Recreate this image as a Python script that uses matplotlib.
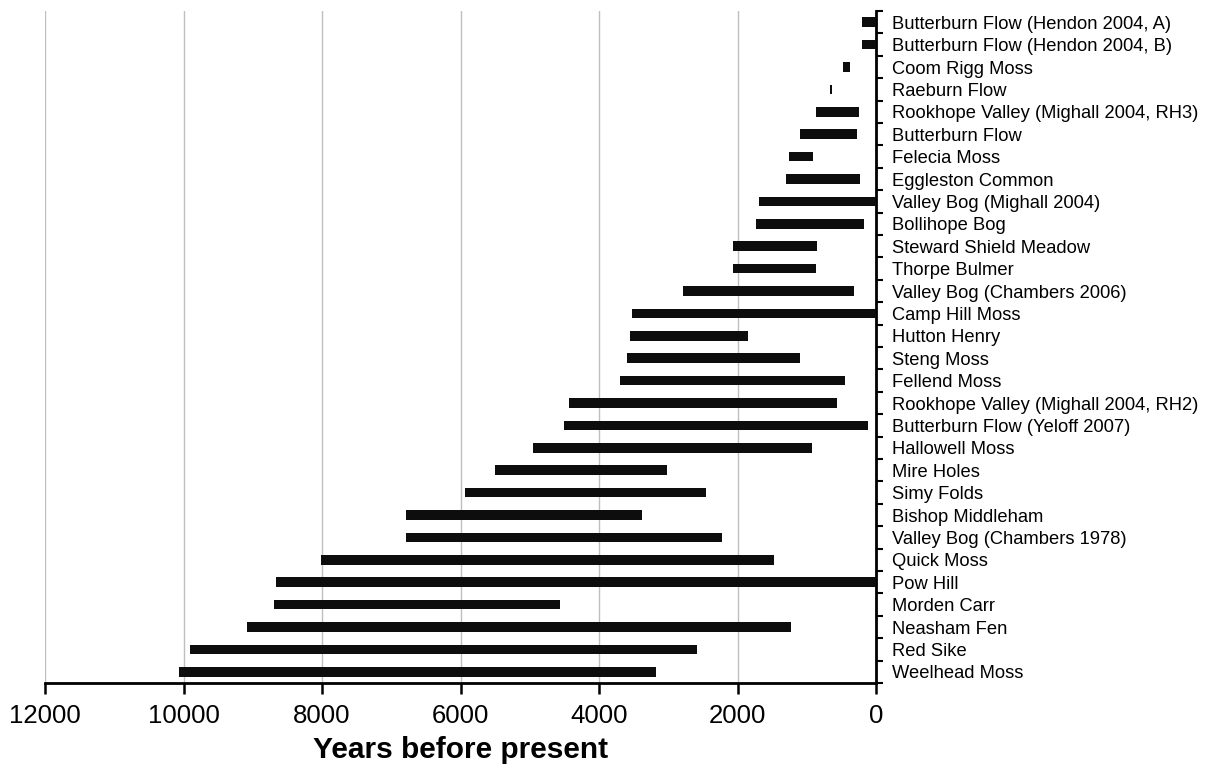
import numpy as np
import matplotlib.pyplot as plt

sites = [
    "Butterburn Flow (Hendon 2004, A)",
    "Butterburn Flow (Hendon 2004, B)",
    "Coom Rigg Moss",
    "Raeburn Flow",
    "Rookhope Valley (Mighall 2004, RH3)",
    "Butterburn Flow",
    "Felecia Moss",
    "Eggleston Common",
    "Valley Bog (Mighall 2004)",
    "Bollihope Bog",
    "Steward Shield Meadow",
    "Thorpe Bulmer",
    "Valley Bog (Chambers 2006)",
    "Camp Hill Moss",
    "Hutton Henry",
    "Steng Moss",
    "Fellend Moss",
    "Rookhope Valley (Mighall 2004, RH2)",
    "Butterburn Flow (Yeloff 2007)",
    "Hallowell Moss",
    "Mire Holes",
    "Simy Folds",
    "Bishop Middleham",
    "Valley Bog (Chambers 1978)",
    "Quick Moss",
    "Pow Hill",
    "Morden Carr",
    "Neasham Fen",
    "Red Sike",
    "Weelhead Moss",
]
# oldest and youngest ages (years BP)
start_bp = [200, 200, 480, 660, 860, 1100, 1260, 1300, 1690, 1730,
            2070, 2070, 2790, 3520, 3550, 3600, 3700, 4440, 4500, 4950,
            5500, 5930, 6780, 6780, 8020, 8670, 8700, 9090, 9910, 10070]
end_bp = [0, 0, 370, 640, 250, 280, 910, 230, 0, 180,
          850, 860, 320, 0, 1850, 1100, 450, 570, 110, 920,
          3020, 2450, 3380, 2230, 1480, 0, 4560, 1230, 2580, 3170]

start_bp = np.array(start_bp)
end_bp = np.array(end_bp)
ypos = np.arange(len(sites)) + 0.5
fam = ['Liberation Sans', 'DejaVu Sans']

fig = plt.figure(figsize=(12.08, 7.69), dpi=100)
ax = fig.add_axes([45 / 1208, 1 - 683 / 769, (876 - 45) / 1208, (683 - 11) / 769])

ax.barh(ypos, start_bp - end_bp, left=end_bp, height=0.42, color='#0d0d0d', zorder=3)

ax.set_xlim(12000, 0)
ax.set_ylim(len(sites), 0)
ax.set_xticks(np.arange(0, 12001, 2000))
ax.grid(axis='x', color='#bfbfbf', linewidth=1, zorder=0)

ax.yaxis.tick_right()
ax.set_yticks(ypos)
ax.set_yticklabels(sites, fontsize=13.2, family=fam)
ax.set_yticks(np.arange(0, len(sites) + 1), minor=True)
ax.tick_params(axis='y', which='major', length=0, pad=11.5)
ax.tick_params(axis='y', which='minor', length=5, width=1.5, direction='out')
ax.tick_params(axis='x', length=8, width=1.8, direction='out', labelsize=18.5, pad=7)
for lab in ax.get_xticklabels():
    lab.set_family(fam)

for s in ['left', 'top']:
    ax.spines[s].set_visible(False)
for s in ['right', 'bottom']:
    ax.spines[s].set_linewidth(2)

ax.set_xlabel("Years before present", fontsize=21.5, fontweight='bold',
              family=fam, labelpad=6)

fig.savefig('out.png', dpi=100)
